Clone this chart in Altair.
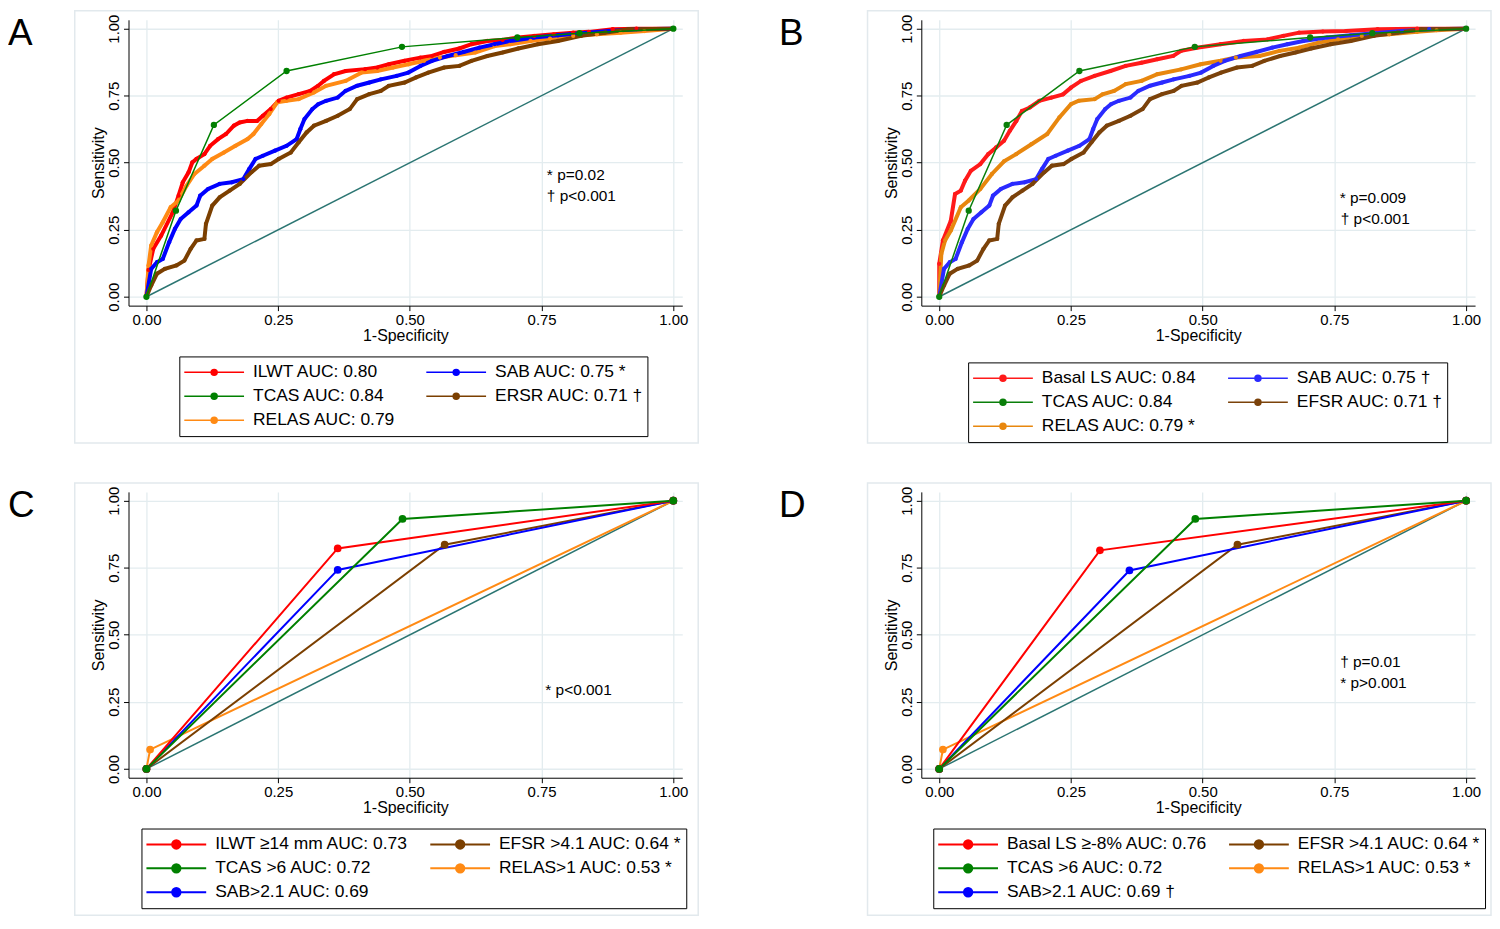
import altair as alt
import pandas as pd

FONT = "Liberation Sans"
TICKS = [0, 0.25, 0.5, 0.75, 1.0]
XDOM = [-0.034, 1.017]
YDOM = [-0.033, 1.033]
W, H = 556, 287
GRID = "#E3ECEF"
BORDER = "#E2E9ED"
DIAG = "#2B7572"

# ---------------- data ----------------
TCAS_X = [0, 0.056, 0.128, 0.266, 0.485, 0.704, 0.822, 1]
TCAS_Y = [0, 0.321, 0.641, 0.842, 0.932, 0.967, 0.983, 1]

A_ILWT_X = [0, 0.004, 0.013, 0.028, 0.05, 0.061, 0.069, 0.08, 0.087, 0.095, 0.11, 0.121, 0.136, 0.151,
            0.166, 0.177, 0.192, 0.21, 0.221, 0.236, 0.251, 0.266, 0.289, 0.311, 0.326, 0.337, 0.356,
            0.378, 0.415, 0.438, 0.46, 0.49, 0.52, 0.542, 0.565, 0.594, 0.617, 0.647, 0.676, 0.706,
            0.736, 0.773, 0.81, 0.84, 0.885, 0.93, 1]
A_ILWT_Y = [0, 0.10, 0.179, 0.228, 0.315, 0.377, 0.427, 0.464, 0.501, 0.514, 0.532, 0.563, 0.588, 0.607,
            0.638, 0.65, 0.656, 0.656, 0.675, 0.70, 0.731, 0.743, 0.756, 0.768, 0.787, 0.805, 0.83,
            0.842, 0.849, 0.855, 0.867, 0.88, 0.892, 0.898, 0.913, 0.926, 0.942, 0.954, 0.958, 0.967,
            0.973, 0.979, 0.985, 0.988, 0.998, 1.0, 1.0]

A_RELAS_X = [0, 0.004, 0.009, 0.02, 0.031, 0.046, 0.061, 0.076, 0.091, 0.11, 0.125, 0.147, 0.169, 0.192,
             0.203, 0.218, 0.233, 0.248, 0.266, 0.289, 0.318, 0.341, 0.378, 0.408, 0.438, 0.468, 0.497,
             0.527, 0.557, 0.587, 0.624, 0.661, 0.691, 0.729, 0.766, 0.81, 0.855, 0.9, 0.945, 1]
A_RELAS_Y = [0, 0.117, 0.191, 0.241, 0.278, 0.334, 0.359, 0.414, 0.458, 0.489, 0.514, 0.538, 0.563, 0.588,
             0.607, 0.644, 0.681, 0.725, 0.731, 0.737, 0.762, 0.787, 0.805, 0.836, 0.842, 0.855, 0.867,
             0.88, 0.892, 0.901, 0.911, 0.935, 0.942, 0.954, 0.963, 0.973, 0.979, 0.985, 0.991, 1]

SAB_X = [0, 0.009, 0.02, 0.031, 0.043, 0.054, 0.065, 0.08, 0.095, 0.102, 0.117, 0.139, 0.162, 0.184, 0.195,
         0.207, 0.221, 0.244, 0.266, 0.285, 0.292, 0.3, 0.315, 0.326, 0.341, 0.363, 0.378, 0.4, 0.423,
         0.445, 0.475, 0.497, 0.52, 0.542, 0.572, 0.602, 0.632, 0.661, 0.691, 0.736, 0.781, 0.825, 0.878,
         0.93, 1]
SAB_Y = [0, 0.104, 0.129, 0.141, 0.203, 0.253, 0.29, 0.315, 0.34, 0.377, 0.402, 0.421, 0.427, 0.439, 0.476,
         0.514, 0.526, 0.545, 0.563, 0.588, 0.625, 0.663, 0.70, 0.718, 0.731, 0.743, 0.768, 0.787, 0.799,
         0.811, 0.824, 0.836, 0.861, 0.88, 0.898, 0.913, 0.929, 0.942, 0.954, 0.967, 0.975, 0.983, 0.991,
         0.998, 1]

EFSR_X = [0, 0.009, 0.02, 0.035, 0.057, 0.072, 0.084, 0.095, 0.11, 0.113, 0.125, 0.139, 0.158, 0.177, 0.199,
          0.214, 0.236, 0.251, 0.274, 0.289, 0.304, 0.318, 0.341, 0.363, 0.386, 0.4, 0.423, 0.445, 0.46,
          0.49, 0.512, 0.535, 0.565, 0.594, 0.617, 0.647, 0.676, 0.706, 0.743, 0.781, 0.825, 0.87, 0.915, 1]
EFSR_Y = [0, 0.042, 0.086, 0.104, 0.117, 0.135, 0.179, 0.21, 0.216, 0.272, 0.34, 0.371, 0.396, 0.421, 0.464,
          0.489, 0.495, 0.514, 0.538, 0.576, 0.613, 0.638, 0.656, 0.675, 0.70, 0.737, 0.756, 0.768, 0.787,
          0.799, 0.818, 0.836, 0.855, 0.861, 0.88, 0.898, 0.911, 0.926, 0.942, 0.954, 0.973, 0.985, 0.998, 1]

B_BASAL_X = [0, 0, 0.007, 0.022, 0.03, 0.041, 0.049, 0.06, 0.078, 0.093, 0.108, 0.123, 0.134, 0.146, 0.157,
             0.172, 0.19, 0.213, 0.235, 0.25, 0.269, 0.295, 0.325, 0.354, 0.384, 0.414, 0.444, 0.459, 0.489,
             0.534, 0.578, 0.623, 0.653, 0.683, 0.728, 0.772, 0.832, 0.907, 1]
B_BASAL_Y = [0, 0.123, 0.21, 0.284, 0.383, 0.396, 0.433, 0.47, 0.495, 0.532, 0.557, 0.582, 0.619, 0.655, 0.693,
             0.706, 0.731, 0.743, 0.755, 0.78, 0.805, 0.824, 0.842, 0.861, 0.873, 0.886, 0.898, 0.917, 0.929,
             0.942, 0.954, 0.96, 0.973, 0.985, 0.989, 0.991, 0.998, 1, 1]

B_RELAS_X = [0, 0.004, 0.011, 0.022, 0.041, 0.056, 0.078, 0.1, 0.123, 0.146, 0.175, 0.205, 0.228, 0.25, 0.265,
             0.295, 0.31, 0.332, 0.354, 0.384, 0.414, 0.459, 0.496, 0.534, 0.563, 0.608, 0.646, 0.683, 0.72,
             0.757, 0.802, 0.854, 0.907, 0.944, 1]
B_RELAS_Y = [0, 0.16, 0.21, 0.247, 0.334, 0.359, 0.402, 0.458, 0.505, 0.532, 0.569, 0.607, 0.669, 0.718, 0.731,
             0.737, 0.755, 0.768, 0.793, 0.805, 0.83, 0.848, 0.867, 0.88, 0.892, 0.898, 0.917, 0.929, 0.948,
             0.96, 0.973, 0.979, 0.988, 0.994, 1]

# Panels C and D: single cut-off points
C_RED_X, C_RED_Y = [0, 0.363, 1], [0, 0.822, 1]
C_BLUE_X, C_BLUE_Y = [0, 0.363, 1], [0, 0.742, 1]
C_GREEN_X, C_GREEN_Y = [0, 0.486, 1], [0, 0.932, 1]
C_BROWN_X, C_BROWN_Y = [0, 0.566, 1], [0, 0.836, 1]
C_ORANGE_X, C_ORANGE_Y = [0, 0.007, 1], [0, 0.072, 1]
D_RED_X, D_RED_Y = [0, 0.305, 1], [0, 0.815, 1]
D_BLUE_X, D_BLUE_Y = [0, 0.361, 1], [0, 0.74, 1]

# legend entries, in the order they are read down the columns
A_LABELS = ["ILWT AUC: 0.80", "TCAS AUC: 0.84", "RELAS AUC: 0.79", "SAB AUC: 0.75 *", "ERSR AUC: 0.71 †"]
B_LABELS = ["Basal LS AUC: 0.84", "TCAS AUC: 0.84", "RELAS AUC: 0.79 *", "SAB AUC: 0.75 †", "EFSR AUC: 0.71 †"]
C_LABELS = ["ILWT ≥14 mm AUC: 0.73", "TCAS >6 AUC: 0.72", "SAB>2.1 AUC: 0.69", "EFSR >4.1 AUC: 0.64 *",
            "RELAS>1 AUC: 0.53 *"]
D_LABELS = ["Basal LS ≥-8% AUC: 0.76", "TCAS >6 AUC: 0.72", "SAB>2.1 AUC: 0.69 †", "EFSR >4.1 AUC: 0.64 *",
            "RELAS>1 AUC: 0.53 *"]

A_NOTES = ["* p=0.02", "† p<0.001"]
A_NOTE_X, A_NOTE_Y = [0.76, 0.76], [0.455, 0.377]
B_NOTES = ["*  p=0.009", "† p<0.001"]
B_NOTE_X, B_NOTE_Y = [0.76, 0.762], [0.367, 0.29]
C_NOTES = ["* p<0.001"]
C_NOTE_X, C_NOTE_Y = [0.757], [0.294]
D_NOTES = ["† p=0.01", "* p>0.001"]
D_NOTE_X, D_NOTE_Y = [0.761, 0.761], [0.398, 0.32]

RED, GREEN, BLUE, BROWN = "#FF0000", "#008000", "#0000FF", "#7B3F00"
ORANGE_A, ORANGE_B = "#FF8A14", "#E8870E"


def curves_df(curves):
    rows = []
    for label, xs, ys in curves:
        for i, (x, y) in enumerate(zip(xs, ys)):
            rows.append({"s": label, "x": x, "y": y, "i": i})
    return pd.DataFrame(rows)


def sym_path(r):
    p = "M-1,0L1,0"
    for rr in (r, r * 0.6, r * 0.25):
        p += f"M{rr:.3f},0A{rr:.3f},{rr:.3f},0,1,1,{-rr:.3f},0A{rr:.3f},{rr:.3f},0,1,1,{rr:.3f},0"
    return p


def ex():
    return alt.X("x:Q", scale=alt.Scale(domain=XDOM, nice=False, zero=False),
                 axis=alt.Axis(values=TICKS, format=".2f"), title="1-Specificity")


def ey():
    return alt.Y("y:Q", scale=alt.Scale(domain=YDOM, nice=False, zero=False),
                 axis=alt.Axis(values=TICKS, format=".2f", labelAngle=270), title="Sensitivity")


def panel(letter, let_off, curves, labels, colors, green_label, notes, nx, ny, lx, ly, big):
    df = curves_df(curves)
    leg = alt.Legend(title=None, orient="none", legendX=lx, legendY=ly, columns=2,
                     symbolType=sym_path(0.14 if big else 0.1), symbolSize=3600,
                     symbolStrokeWidth=2 if big else 1.5, clipHeight=24,
                     labelFontSize=17.5, labelFont=FONT, labelColor="#000", labelLimit=400,
                     strokeColor="#000", fillColor="#FFFFFF", padding=4,
                     columnPadding=20 if big else 30, rowPadding=0, labelOffset=8)
    col = alt.Color("s:N", scale=alt.Scale(domain=labels, range=colors), legend=leg)
    one = pd.DataFrame({"k": [0]})
    border = alt.Chart(one).mark_rect(filled=False, stroke=BORDER, strokeWidth=1.5).encode(
        x=alt.value(-54), x2=alt.value(W + 16), y=alt.value(-9), y2=alt.value(425))
    let = alt.Chart(one).mark_text(text=letter, fontSize=37, font=FONT, align="left",
                                   baseline="middle", color="#000").encode(
        x=alt.value(-let_off), y=alt.value(14))
    diag = alt.Chart(pd.DataFrame({"x": [0, 1], "y": [0, 1]})).mark_line(
        color=DIAG, strokeWidth=1.5).encode(x=ex(), y=ey())
    base = alt.Chart(df).encode(x=ex(), y=ey(), color=col, order="i:Q")
    layers = [border, let, diag]
    if big:
        layers.append(base.mark_line(strokeWidth=2))
        layers.append(base.mark_point(filled=True, size=60, opacity=1))
    else:
        steps = base.transform_filter(alt.datum.s != green_label)
        grn = base.transform_filter(alt.datum.s == green_label)
        layers.append(steps.mark_line(strokeWidth=4))
        layers.append(steps.mark_point(filled=True, size=18, opacity=1))
        layers.append(grn.mark_line(strokeWidth=1.5))
        layers.append(grn.mark_point(filled=True, size=40, opacity=1))
    nd = pd.DataFrame({"t": notes, "x": nx, "y": ny})
    layers.append(alt.Chart(nd).mark_text(align="left", baseline="middle", fontSize=15.5, font=FONT,
                                          color="#000").encode(x=ex(), y=ey(), text="t:N"))
    return alt.layer(*layers).properties(width=W, height=H)


pA = panel("A", 121,
           [(A_LABELS[0], A_ILWT_X, A_ILWT_Y), (A_LABELS[2], A_RELAS_X, A_RELAS_Y),
            (A_LABELS[3], SAB_X, SAB_Y), (A_LABELS[4], EFSR_X, EFSR_Y), (A_LABELS[1], TCAS_X, TCAS_Y)],
           A_LABELS, [RED, GREEN, ORANGE_A, BLUE, BROWN], A_LABELS[1],
           A_NOTES, A_NOTE_X, A_NOTE_Y, 51, 338, False)
pB = panel("B", 143,
           [(B_LABELS[0], B_BASAL_X, B_BASAL_Y), (B_LABELS[2], B_RELAS_X, B_RELAS_Y),
            (B_LABELS[3], SAB_X, SAB_Y), (B_LABELS[4], EFSR_X, EFSR_Y), (B_LABELS[1], TCAS_X, TCAS_Y)],
           B_LABELS, ["#FF1A1A", "#0A7F0A", ORANGE_B, "#2A2AFF", "#7B420A"], B_LABELS[1],
           B_NOTES, B_NOTE_X, B_NOTE_Y, 47, 344, False)
pC = panel("C", 121,
           [(C_LABELS[4], C_ORANGE_X, C_ORANGE_Y), (C_LABELS[3], C_BROWN_X, C_BROWN_Y),
            (C_LABELS[2], C_BLUE_X, C_BLUE_Y), (C_LABELS[0], C_RED_X, C_RED_Y),
            (C_LABELS[1], C_GREEN_X, C_GREEN_Y)],
           C_LABELS, [RED, GREEN, BLUE, BROWN, ORANGE_A], None,
           C_NOTES, C_NOTE_X, C_NOTE_Y, 13, 338, True)
pD = panel("D", 143,
           [(D_LABELS[4], C_ORANGE_X, C_ORANGE_Y), (D_LABELS[3], C_BROWN_X, C_BROWN_Y),
            (D_LABELS[2], D_BLUE_X, D_BLUE_Y), (D_LABELS[0], D_RED_X, D_RED_Y),
            (D_LABELS[1], C_GREEN_X, C_GREEN_Y)],
           D_LABELS, [RED, GREEN, BLUE, BROWN, ORANGE_A], None,
           D_NOTES, D_NOTE_X, D_NOTE_Y, 12, 338, True)

row1 = alt.hconcat(pA, pB, spacing=80).resolve_scale(color="independent")
row2 = alt.hconcat(pC, pD, spacing=80).resolve_scale(color="independent")
chart = alt.vconcat(row1, row2, spacing=38).resolve_scale(color="independent").properties(
    padding=0
).configure(font=FONT).configure_view(stroke=None).configure_axis(
    gridColor=GRID, gridWidth=1.3, domainColor="#000", tickColor="#000", tickSize=5,
    labelFont=FONT, titleFont=FONT, labelFontSize=15, titleFontSize=16, titleFontWeight="normal",
    labelColor="#000", titleColor="#000", labelPadding=2, titlePadding=0
)

chart.save("out.html", embed_options={"renderer": "svg", "actions": False})
